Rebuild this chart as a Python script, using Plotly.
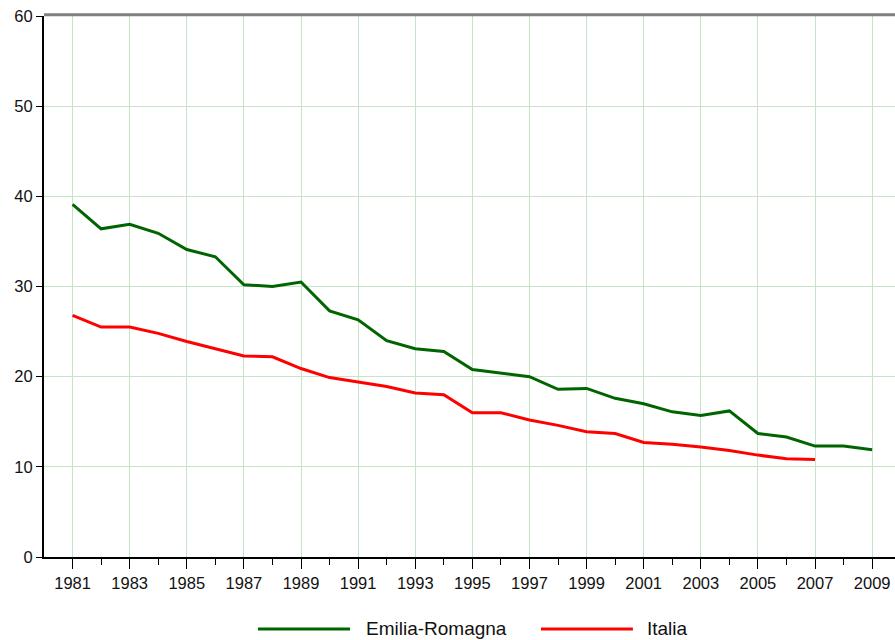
import plotly.graph_objects as go

years = list(range(1981, 2010))
emilia_romagna = [39.1, 36.4, 36.9, 35.9, 34.1, 33.3, 30.2, 30.0, 30.5, 27.3,
                  26.3, 24.0, 23.1, 22.8, 20.8, 20.4, 20.0, 18.6, 18.7, 17.6,
                  17.0, 16.1, 15.7, 16.2, 13.7, 13.3, 12.3, 12.3, 11.9]
italia_years = list(range(1981, 2008))
italia = [26.8, 25.5, 25.5, 24.8, 23.9, 23.1, 22.3, 22.2, 20.9, 19.9,
          19.4, 18.9, 18.2, 18.0, 16.0, 16.0, 15.2, 14.6, 13.9, 13.7,
          12.7, 12.5, 12.2, 11.8, 11.3, 10.9, 10.8]
series_names = ["Emilia-Romagna", "Italia"]
colors = ["#006400", "#ff0000"]
x_tick_labels = [str(y) for y in range(1981, 2010, 2)]
y_ticks = [0, 10, 20, 30, 40, 50, 60]

FONT = "Liberation Sans, Arial, sans-serif"

fig = go.Figure()
fig.add_trace(go.Scatter(x=years, y=emilia_romagna, mode="lines", name=series_names[0],
                         line=dict(color=colors[0], width=3), showlegend=False))
fig.add_trace(go.Scatter(x=italia_years, y=italia, mode="lines", name=series_names[1],
                         line=dict(color=colors[1], width=3), showlegend=False))

grid_color = "#c8e4c8"
fig.update_xaxes(range=[1980, 2009.8], tickmode="array",
                 tickvals=list(range(1981, 2010, 2)), ticktext=x_tick_labels,
                 ticks="outside", ticklen=10, tickcolor="black", tickwidth=1,
                 showgrid=True, gridcolor=grid_color, gridwidth=1,
                 showline=True, linecolor="black", linewidth=2,
                 zeroline=False, ticklabeloverflow="allow",
                 minor=dict(tickmode="array", tickvals=list(range(1982, 2010, 2)),
                            ticks="outside", ticklen=6, tickcolor="black", showgrid=False),
                 tickfont=dict(family=FONT, size=16.5, color="#111"))
fig.update_yaxes(range=[0, 60], tickvals=y_ticks,
                 ticks="outside", ticklen=6, tickcolor="black", tickwidth=1,
                 showgrid=True, gridcolor=grid_color, gridwidth=1,
                 showline=True, linecolor="black", linewidth=2, zeroline=False,
                 ticklabeloverflow="allow",
                 tickfont=dict(family=FONT, size=16.5, color="#111"))

# top border (gray band just above the 60 gridline)
fig.add_shape(type="line", xref="paper", yref="paper", x0=0, x1=1, y0=1.0025, y1=1.0025,
              line=dict(color="#808080", width=3), layer="above")

# manual legend
legend_y = -0.133
legend_items = [(0.2515, 0.3596, 0.376), (0.584, 0.692, 0.706)]
for (x0, x1, tx), name, c in zip(legend_items, series_names, colors):
    fig.add_shape(type="line", xref="paper", yref="paper", x0=x0, x1=x1,
                  y0=legend_y, y1=legend_y, line=dict(color=c, width=3))
    fig.add_annotation(xref="paper", yref="paper", x=tx, y=legend_y, text=name,
                       showarrow=False, xanchor="left", yanchor="middle",
                       font=dict(family=FONT, size=19, color="#111"))

fig.update_layout(width=895, height=640, margin=dict(l=44, r=0, t=16, b=83),
                  plot_bgcolor="white", paper_bgcolor="white",
                  font=dict(family=FONT))
fig.write_html("out.html", config={"displayModeBar": False},
               post_script="document.body.style.margin='0';"
                           "document.body.style.overflow='hidden';")
